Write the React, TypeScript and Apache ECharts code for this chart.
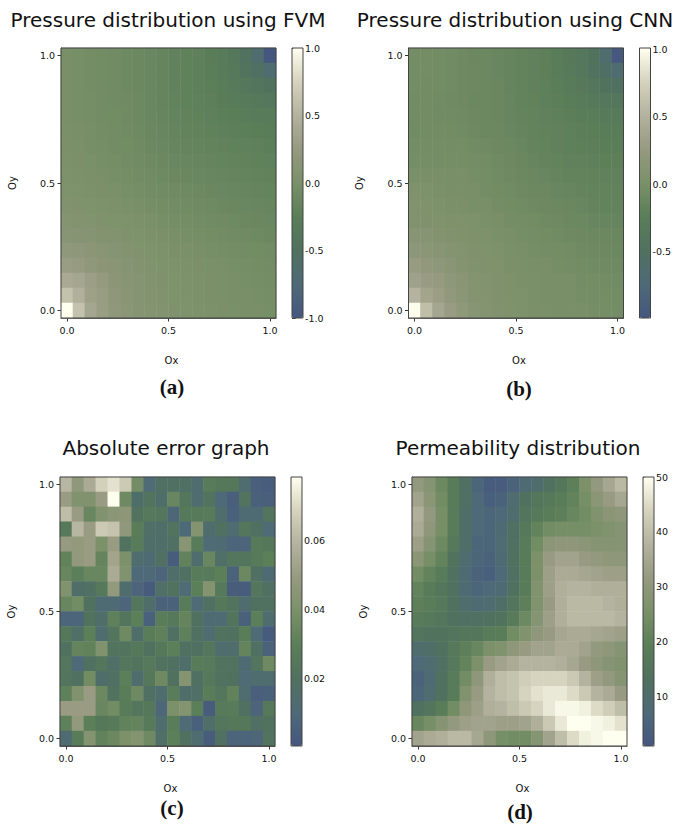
import React, { useEffect, useRef } from "react";
import * as echarts from "echarts";

const cellIndex = ["0","1","2","3","4","5","6","7","8","9","10","11","12","13","14","15","16","17"];
const colorStops = ["#45567f","#4e6a78","#50715f","#5a7e58","#7a9068","#969a80","#b3b29e","#d5d3bd","#fffff0"];
const titles = ["Pressure distribution using FVM","Pressure distribution using CNN","Absolute error graph","Permeability distribution"];
const captions = ["(a)","(b)","(c)","(d)"];
const xTicks = [0, 0.5, 1];
const yTicks = [0, 0.5, 1];
const barTicksA = [-1, -0.5, 0, 0.5, 1];
const barTicksB = [-0.5, 0, 0.5, 1];
const barTicksC = [0.02, 0.04, 0.06];
const barTicksD = [10, 20, 30, 40, 50];

// rows listed top (Oy = 1.0) to bottom (Oy = 0.0)
const fvm = [
[-0.01,-0.02,-0.04,-0.06,-0.07,-0.09,-0.11,-0.13,-0.16,-0.19,-0.2,-0.22,-0.26,-0.3,-0.38,-0.48,-0.65,-0.99],
[-0.01,-0.02,-0.04,-0.06,-0.07,-0.09,-0.11,-0.13,-0.16,-0.19,-0.2,-0.22,-0.25,-0.29,-0.36,-0.45,-0.55,-0.68],
[-0.01,-0.02,-0.04,-0.05,-0.07,-0.09,-0.11,-0.13,-0.16,-0.19,-0.2,-0.22,-0.24,-0.27,-0.32,-0.38,-0.43,-0.47],
[-0.01,-0.02,-0.03,-0.05,-0.07,-0.08,-0.1,-0.13,-0.16,-0.18,-0.2,-0.21,-0.23,-0.26,-0.29,-0.32,-0.35,-0.38],
[-0.01,-0.02,-0.03,-0.05,-0.06,-0.08,-0.1,-0.13,-0.15,-0.17,-0.19,-0.2,-0.22,-0.24,-0.25,-0.27,-0.29,-0.31],
[0.0,-0.01,-0.02,-0.04,-0.05,-0.07,-0.09,-0.12,-0.14,-0.16,-0.18,-0.19,-0.2,-0.22,-0.23,-0.24,-0.25,-0.27],
[0.01,0.0,-0.02,-0.03,-0.05,-0.06,-0.08,-0.11,-0.13,-0.15,-0.16,-0.17,-0.18,-0.19,-0.2,-0.21,-0.22,-0.24],
[0.02,0.01,0.0,-0.02,-0.03,-0.05,-0.07,-0.09,-0.11,-0.13,-0.14,-0.15,-0.16,-0.17,-0.18,-0.19,-0.2,-0.21],
[0.03,0.02,0.01,-0.01,-0.02,-0.03,-0.05,-0.07,-0.09,-0.11,-0.12,-0.13,-0.14,-0.15,-0.16,-0.17,-0.18,-0.19],
[0.04,0.03,0.02,0.01,0.0,-0.02,-0.03,-0.05,-0.07,-0.08,-0.09,-0.1,-0.12,-0.13,-0.14,-0.15,-0.16,-0.17],
[0.06,0.05,0.04,0.03,0.02,0.0,-0.01,-0.03,-0.04,-0.05,-0.07,-0.08,-0.09,-0.11,-0.12,-0.13,-0.14,-0.15],
[0.09,0.08,0.07,0.05,0.04,0.03,0.02,0.0,-0.02,-0.03,-0.04,-0.05,-0.07,-0.08,-0.09,-0.11,-0.12,-0.13],
[0.12,0.11,0.1,0.08,0.07,0.05,0.04,0.02,0.01,-0.01,-0.02,-0.03,-0.04,-0.05,-0.07,-0.08,-0.09,-0.11],
[0.2,0.18,0.16,0.12,0.1,0.08,0.06,0.04,0.03,0.01,0.0,-0.01,-0.02,-0.03,-0.04,-0.05,-0.06,-0.07],
[0.28,0.25,0.2,0.16,0.13,0.1,0.08,0.06,0.04,0.03,0.02,0.01,0.0,-0.01,-0.02,-0.03,-0.04,-0.05],
[0.42,0.38,0.3,0.24,0.16,0.12,0.1,0.07,0.05,0.04,0.03,0.02,0.01,0.0,-0.01,-0.02,-0.03,-0.04],
[0.62,0.48,0.32,0.27,0.18,0.13,0.1,0.08,0.06,0.04,0.03,0.02,0.01,0.0,-0.01,-0.01,-0.02,-0.03],
[1.0,0.62,0.38,0.28,0.2,0.15,0.11,0.09,0.07,0.05,0.04,0.03,0.02,0.01,0.0,-0.01,-0.01,-0.02],
];
const cnn = [
[-0.03,-0.04,-0.05,-0.06,-0.08,-0.1,-0.11,-0.13,-0.15,-0.18,-0.2,-0.22,-0.28,-0.33,-0.38,-0.46,-0.62,-0.97],
[-0.03,-0.04,-0.05,-0.06,-0.08,-0.09,-0.11,-0.13,-0.15,-0.18,-0.2,-0.22,-0.27,-0.31,-0.37,-0.47,-0.56,-0.66],
[-0.04,-0.05,-0.05,-0.06,-0.08,-0.09,-0.11,-0.12,-0.15,-0.17,-0.2,-0.21,-0.25,-0.29,-0.33,-0.4,-0.46,-0.52],
[-0.05,-0.05,-0.06,-0.07,-0.08,-0.1,-0.11,-0.12,-0.14,-0.17,-0.19,-0.21,-0.23,-0.27,-0.29,-0.34,-0.38,-0.4],
[-0.05,-0.05,-0.06,-0.06,-0.07,-0.09,-0.1,-0.12,-0.14,-0.16,-0.18,-0.2,-0.21,-0.23,-0.26,-0.28,-0.31,-0.32],
[-0.06,-0.05,-0.05,-0.05,-0.06,-0.08,-0.1,-0.11,-0.13,-0.15,-0.17,-0.19,-0.2,-0.21,-0.23,-0.25,-0.26,-0.28],
[-0.03,-0.04,-0.04,-0.04,-0.04,-0.06,-0.07,-0.09,-0.11,-0.13,-0.16,-0.18,-0.2,-0.21,-0.22,-0.23,-0.24,-0.25],
[-0.02,-0.02,-0.03,-0.02,-0.02,-0.03,-0.05,-0.07,-0.09,-0.12,-0.14,-0.16,-0.18,-0.2,-0.2,-0.21,-0.22,-0.22],
[0.01,0.0,-0.01,-0.01,-0.01,-0.02,-0.04,-0.06,-0.08,-0.1,-0.12,-0.13,-0.15,-0.17,-0.18,-0.19,-0.2,-0.2],
[0.05,0.03,0.01,0.0,0.0,-0.01,-0.03,-0.05,-0.06,-0.08,-0.1,-0.11,-0.13,-0.14,-0.16,-0.18,-0.18,-0.19],
[0.07,0.05,0.03,0.02,0.02,0.0,-0.01,-0.03,-0.05,-0.06,-0.08,-0.09,-0.11,-0.12,-0.13,-0.16,-0.17,-0.18],
[0.07,0.06,0.05,0.04,0.04,0.03,0.01,-0.01,-0.03,-0.04,-0.05,-0.07,-0.08,-0.1,-0.11,-0.13,-0.14,-0.15],
[0.13,0.12,0.09,0.07,0.05,0.04,0.03,0.01,-0.01,-0.02,-0.03,-0.05,-0.06,-0.08,-0.09,-0.1,-0.11,-0.12],
[0.17,0.16,0.13,0.1,0.08,0.06,0.05,0.03,0.01,0.0,-0.02,-0.03,-0.04,-0.05,-0.07,-0.08,-0.09,-0.1],
[0.27,0.22,0.18,0.14,0.1,0.07,0.06,0.05,0.02,0.01,0.0,-0.01,-0.02,-0.03,-0.05,-0.06,-0.07,-0.08],
[0.34,0.28,0.26,0.18,0.14,0.1,0.08,0.06,0.04,0.02,0.01,0.0,-0.01,-0.01,-0.03,-0.04,-0.05,-0.06],
[0.52,0.36,0.3,0.22,0.15,0.1,0.09,0.06,0.04,0.03,0.01,0.0,0.0,-0.01,-0.02,-0.03,-0.04,-0.04],
[1.0,0.6,0.38,0.28,0.2,0.13,0.1,0.07,0.05,0.03,0.02,0.01,0.0,0.0,-0.01,-0.02,-0.02,-0.03],
];
const absError = [
[.060,.047,.056,.068,.072,.066,.038,.011,.018,.018,.018,.014,.028,.025,.025,.013,.005,.004],
[.050,.042,.042,.050,.078,.036,.016,.022,.016,.034,.024,.014,.022,.010,.005,.022,.006,.005],
[.062,.050,.034,.042,.045,.046,.021,.026,.024,.009,.026,.027,.028,.015,.006,.012,.012,.023],
[.026,.060,.050,.066,.064,.047,.029,.017,.016,.022,.010,.043,.015,.019,.013,.024,.019,.011],
[.049,.048,.050,.040,.050,.021,.028,.016,.016,.018,.044,.028,.011,.012,.008,.008,.027,.025],
[.032,.048,.050,.033,.053,.040,.014,.012,.019,.004,.032,.015,.034,.017,.024,.023,.027,.030],
[.034,.030,.034,.034,.056,.042,.010,.010,.008,.016,.018,.028,.027,.030,.007,.035,.018,.012],
[.042,.016,.018,.026,.048,.015,.008,.003,.017,.021,.011,.030,.043,.026,.004,.004,.024,.018],
[.034,.037,.020,.012,.012,.008,.024,.016,.007,.007,.028,.011,.018,.025,.022,.014,.020,.020],
[.008,.008,.021,.016,.031,.023,.030,.006,.029,.026,.033,.020,.012,.012,.022,.006,.030,.014],
[.025,.017,.030,.014,.023,.036,.016,.029,.031,.018,.031,.019,.013,.021,.020,.029,.011,.003],
[.020,.033,.032,.042,.022,.022,.025,.020,.025,.030,.019,.019,.024,.015,.015,.033,.018,.007],
[.024,.010,.020,.024,.017,.024,.022,.026,.021,.019,.016,.028,.027,.021,.021,.012,.023,.036],
[.023,.019,.037,.016,.018,.030,.015,.025,.036,.020,.043,.018,.026,.021,.020,.011,.014,.014],
[.031,.042,.050,.035,.021,.029,.036,.018,.015,.029,.016,.017,.029,.024,.032,.013,.005,.006],
[.050,.050,.050,.034,.037,.028,.024,.025,.009,.040,.043,.030,.004,.027,.028,.019,.008,.026],
[.031,.048,.030,.025,.027,.032,.033,.027,.015,.029,.011,.006,.016,.024,.025,.025,.018,.021],
[.012,.028,.043,.032,.035,.040,.043,.036,.017,.030,.020,.013,.004,.019,.008,.008,.009,.022],
];
const permeability = [
[31,28,23,18,12,6,3,3,5,8,10,13,16,20,26,31,35,39],
[34,29,24,18,12,7,4,5,9,13,16,17,19,21,25,29,32,35],
[37,31,25,18,11,7,6,7,10,15,17,19,20,22,24,27,29,30],
[36,30,25,18,11,7,6,8,12,17,21,24,25,25,25,26,27,28],
[33,28,23,17,11,6,6,9,12,18,24,29,30,30,29,28,28,28],
[29,25,21,14,9,6,5,8,13,18,26,32,34,34,32,31,30,30],
[24,21,18,13,8,5,4,7,12,18,26,33,36,36,35,34,33,33],
[21,18,16,13,8,6,7,8,13,18,27,33,37,38,38,37,37,37],
[20,19,17,13,10,8,9,11,15,20,27,32,37,39,39,39,38,37],
[18,17,16,13,12,12,13,14,18,23,28,33,37,39,39,39,39,38],
[15,14,14,15,16,16,18,19,24,27,30,32,35,36,36,35,34,33],
[10,11,13,17,20,22,26,27,30,32,34,34,36,36,34,31,30,28],
[7,9,12,17,21,26,32,34,36,38,38,38,37,35,32,30,28,27],
[5,8,13,18,24,30,37,40,41,43,44,44,44,42,38,33,31,28],
[6,9,13,18,27,32,38,40,41,44,46,47,47,45,42,38,36,32],
[13,15,19,24,30,33,37,38,40,42,44,47,49,49,48,45,43,40],
[22,25,28,31,33,34,34,33,33,34,37,42,47,50,50,49,48,46],
[34,36,37,39,39,35,30,25,24,24,28,34,40,45,48,49,50,50],
];

const FONT = "DejaVu Sans";
const panels = [
  { rows: fvm, x: 61, y: 48, bx: 292, ticks: barTicksA, min: -1, max: 1, digits: 1, t: [168, 20], c: [172, 387], h: 270 },
  { rows: cnn, x: 408.5, y: 48, bx: 639.5, ticks: barTicksB, min: -0.995, max: 1.01, digits: 1, t: [515, 20], c: [519, 389], h: 270 },
  { rows: absError, x: 60, y: 477, bx: 291, ticks: barTicksC, min: 0.0005, max: 0.0783, digits: 2, t: [166, 448], c: [172, 808], h: 269 },
  { rows: permeability, x: 412, y: 477, bx: 643, ticks: barTicksD, min: 1, max: 50, digits: 0, t: [518, 448], c: [520, 812], h: 269 },
];
const W = 215;
const BW = 11;

function buildOption() {
  const grid: any[] = [], xAxis: any[] = [], yAxis: any[] = [], series: any[] = [], visualMap: any[] = [], title: any[] = [];
  const low = -1 / 34, high = 1 + 1 / 34;
  const tickLabel = { fontFamily: FONT, fontSize: 9.5, color: "#111" };
  panels.forEach((p, i) => {
    const g = grid.length;
    grid.push({ left: p.x, top: p.y, width: W, height: p.h, show: true, borderColor: "#444", borderWidth: 1, backgroundColor: "transparent", z: 5 });
    const cx = xAxis.length, cy = yAxis.length;
    xAxis.push({ type: "category", gridIndex: g, data: cellIndex, show: false, position: "bottom" });
    yAxis.push({ type: "category", gridIndex: g, data: cellIndex, show: false, inverse: true, position: "left" });
    xAxis.push({
      type: "value", gridIndex: g, min: low, max: high, position: "bottom", name: "Ox", nameLocation: "middle", nameGap: 37,
      nameTextStyle: { fontFamily: FONT, fontSize: 10, color: "#111", padding: [0, 0, 0, 6] },
      splitLine: { show: false },
      axisLine: { show: true, onZero: false, lineStyle: { color: "#555", width: 1 } },
      axisTick: { show: true, length: 3.5, customValues: xTicks, lineStyle: { color: "#333" } },
      axisLabel: { ...tickLabel, margin: 7, customValues: xTicks, formatter: (v: number) => v.toFixed(1) },
    });
    yAxis.push({
      type: "value", gridIndex: g, min: low, max: high, position: "left", name: "Oy", nameLocation: "middle", nameGap: 38,
      nameTextStyle: { fontFamily: FONT, fontSize: 10, color: "#111", padding: [0, 0, 6, 0] },
      splitLine: { show: false },
      axisLine: { show: true, onZero: false, lineStyle: { color: "#555", width: 1 } },
      axisTick: { show: true, length: 3.5, customValues: yTicks, lineStyle: { color: "#333" } },
      axisLabel: { ...tickLabel, margin: 6, customValues: yTicks, formatter: (v: number) => v.toFixed(1) },
    });
    const data: number[][] = [];
    p.rows.forEach((row, r) => row.forEach((v, c) => data.push([c, r, v])));
    series.push({ type: "heatmap", xAxisIndex: cx, yAxisIndex: cy, data, emphasis: { disabled: true }, progressive: 0 });
    visualMap.push({
      type: "continuous", seriesIndex: i, dimension: 2, min: p.min, max: p.max, left: p.bx, top: p.y, padding: 0,
      itemWidth: BW, itemHeight: p.h, calculable: false, showLabel: false, text: ["", ""], hoverLink: false,
      inRange: { color: colorStops },
    });
    title.push({ text: titles[i], left: p.t[0], top: p.t[1] - 12, textAlign: "center", padding: 0, textStyle: { fontFamily: FONT, fontSize: 20, fontWeight: "normal", color: "#111", lineHeight: 24 } });
    title.push({ text: captions[i], left: p.c[0], top: p.c[1] - 12, textAlign: "center", padding: 0, textStyle: { fontFamily: "Liberation Serif", fontSize: 21, fontWeight: "bold", color: "#111", lineHeight: 24 } });
  });
  panels.forEach((p) => {
    const g = grid.length;
    grid.push({ left: p.bx, top: p.y, width: BW, height: p.h, show: true, borderColor: "#444", borderWidth: 1, backgroundColor: "transparent", z: 6 });
    xAxis.push({ type: "value", gridIndex: g, min: 0, max: 1, show: false });
    yAxis.push({
      type: "value", gridIndex: g, min: p.min, max: p.max, position: "right", splitLine: { show: false },
      axisLine: { show: false },
      axisTick: { show: true, length: 3.5, customValues: p.ticks, lineStyle: { color: "#333" } },
      axisLabel: { ...tickLabel, margin: 2, customValues: p.ticks, formatter: (v: number) => v.toFixed(p.digits) },
    });
  });
  return { animation: false, backgroundColor: "#fff", tooltip: { show: false }, title, grid, xAxis, yAxis, series, visualMap };
}

export default function App() {
  const ref = useRef<HTMLDivElement>(null);
  useEffect(() => {
    const chart = echarts.init(ref.current!, null, { renderer: "svg" });
    chart.setOption(buildOption());
    return () => chart.dispose();
  }, []);
  return <div ref={ref} style={{ position: "absolute", left: 0, top: 0, width: 685, height: 824 }} />;
}
